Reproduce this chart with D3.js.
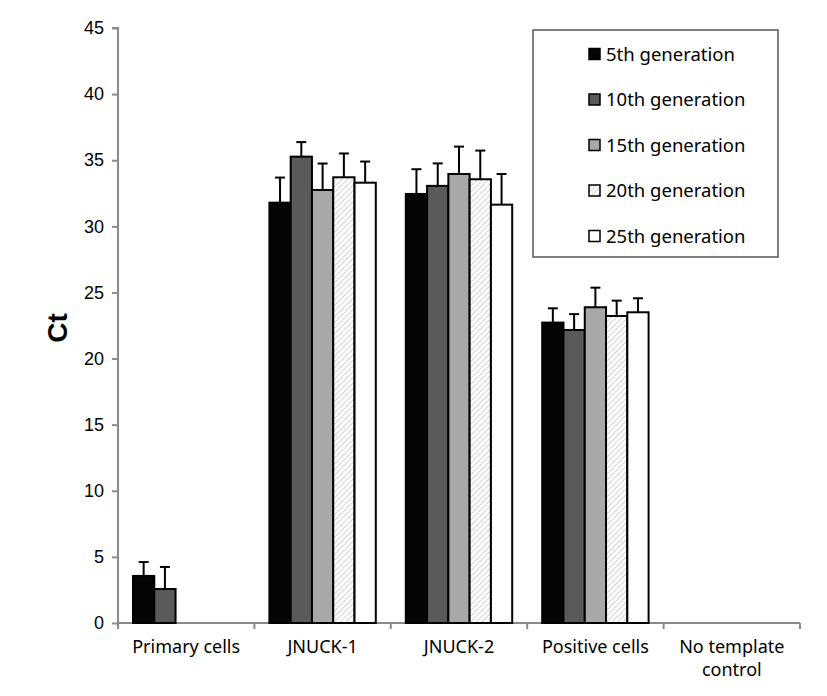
<!DOCTYPE html>
<html><head><meta charset="utf-8">
<script src="https://cdn.jsdelivr.net/npm/d3@7"></script>
<style>body{margin:0;background:#fff;} svg{display:block;}</style>
</head><body><svg id="c" width="827" height="696"></svg>
<script>
const categories = ["Primary cells","JNUCK-1","JNUCK-2","Positive cells","No template control"];
const series = ["5th generation","10th generation","15th generation","20th generation","25th generation"];
const gen5  = [3.56, 31.79, 32.45, 22.72, null];
const gen10 = [2.57, 35.27, 33.06, 22.16, null];
const gen15 = [null, 32.75, 33.96, 23.88, null];
const gen20 = [null, 33.71, 33.56, 23.22, null];
const gen25 = [null, 33.30, 31.64, 23.50, null];
const err5  = [1.05, 1.90, 1.87, 1.08, null];
const err10 = [1.67, 1.10, 1.70, 1.20, null];
const err15 = [null, 2.00, 2.07, 1.48, null];
const err20 = [null, 1.80, 2.17, 1.16, null];
const err25 = [null, 1.60, 2.32, 1.06, null];
const yTicks = [0,5,10,15,20,25,30,35,40,45];

const values = [gen5, gen10, gen15, gen20, gen25];
const errors = [err5, err10, err15, err20, err25];
const fills = ["#050505","#5a5a5a","#a8a8a8","url(#hatch)","#ffffff"];

const svg = d3.select("#c");
const defs = svg.append("defs");
const pat = defs.append("pattern").attr("id","hatch").attr("patternUnits","userSpaceOnUse")
  .attr("width",4).attr("height",4).attr("patternTransform","rotate(45)");
pat.append("rect").attr("width",4).attr("height",4).attr("fill","#ffffff");
pat.append("line").attr("x1",0).attr("y1",0).attr("x2",0).attr("y2",4)
  .attr("stroke","#c8c8c8").attr("stroke-width",1.5);

const x0 = d3.scaleBand().domain(categories).range([118, 800]).paddingInner(0).paddingOuter(0);
const x1 = d3.scaleBand().domain(series).range([15, x0.bandwidth() - 15]);
const y = d3.scaleLinear().domain([0,45]).range([623, 28]);

// axes
const gy = svg.append("g").attr("transform","translate(118,0)")
  .call(d3.axisLeft(y).tickValues(yTicks).tickSize(6).tickPadding(8));
gy.select(".domain").attr("stroke","#8a8a8a").attr("stroke-width",2).attr("d","M-6,28H0V623");
gy.selectAll(".tick line").attr("stroke","#8a8a8a").attr("stroke-width",2);
gy.selectAll(".tick text").attr("font-family","Liberation Sans, Arial, sans-serif").attr("font-size",18).attr("fill","#000");

const gx = svg.append("g").attr("transform","translate(0,623)");
gx.append("line").attr("x1",118).attr("x2",800).attr("y1",0).attr("y2",0).attr("stroke","#8a8a8a").attr("stroke-width",2);
const bounds = categories.map(c => x0(c)).concat([x0(categories[categories.length-1]) + x0.bandwidth()]);
gx.selectAll("line.tk").data(bounds).enter().append("line").attr("class","tk")
  .attr("x1",d=>d).attr("x2",d=>d).attr("y1",0).attr("y2",6).attr("stroke","#8a8a8a").attr("stroke-width",2);

// category labels
categories.forEach(c => {
  const cx = x0(c) + x0.bandwidth()/2;
  const lines = c === "No template control" ? ["No template","control"] : [c];
  lines.forEach((t,i) => {
    svg.append("text").attr("x",cx).attr("y",653 + i*23).attr("text-anchor","middle")
      .attr("font-family","Noto Sans, Open Sans, sans-serif").attr("font-size",18).attr("fill","#000").text(t);
  });
});

// bars
series.forEach((s, si) => {
  const g = svg.append("g");
  categories.forEach((c, ci) => {
    const v = values[si][ci];
    if (v == null) return;
    const bx = x0(c) + x1(s);
    const e = errors[si][ci];
    const cxm = bx + x1.bandwidth()/2;
    g.append("line").attr("x1",cxm).attr("x2",cxm).attr("y1",y(v)).attr("y2",y(v+e))
      .attr("stroke","#000").attr("stroke-width",2);
    g.append("line").attr("x1",cxm-5).attr("x2",cxm+5).attr("y1",y(v+e)).attr("y2",y(v+e))
      .attr("stroke","#000").attr("stroke-width",2);
    g.append("rect").attr("x",bx).attr("y",y(v)).attr("width",x1.bandwidth()).attr("height",y(0)-y(v))
      .attr("fill",fills[si]).attr("stroke","#000").attr("stroke-width",2);
  });
});

// y label
svg.append("text").attr("transform","translate(67,328) rotate(-90)").attr("text-anchor","middle")
  .attr("font-family","Liberation Sans, Arial, sans-serif").attr("font-weight","bold").attr("font-size",28).text("Ct");

// legend
const lg = svg.append("g");
lg.append("rect").attr("x",533).attr("y",30).attr("width",245).attr("height",227)
  .attr("fill","#fff").attr("stroke","#555").attr("stroke-width",1.5);
series.forEach((s, i) => {
  const cy = 54 + i*45.5;
  lg.append("rect").attr("x",589).attr("y",cy-5.5).attr("width",11).attr("height",11)
    .attr("fill",fills[i]).attr("stroke","#000").attr("stroke-width",1.5);
  lg.append("text").attr("x",606).attr("y",cy+6.5).attr("font-family","Noto Sans, Open Sans, sans-serif")
    .attr("font-size",18.5).attr("fill","#000").text(s);
});
</script></body></html>
